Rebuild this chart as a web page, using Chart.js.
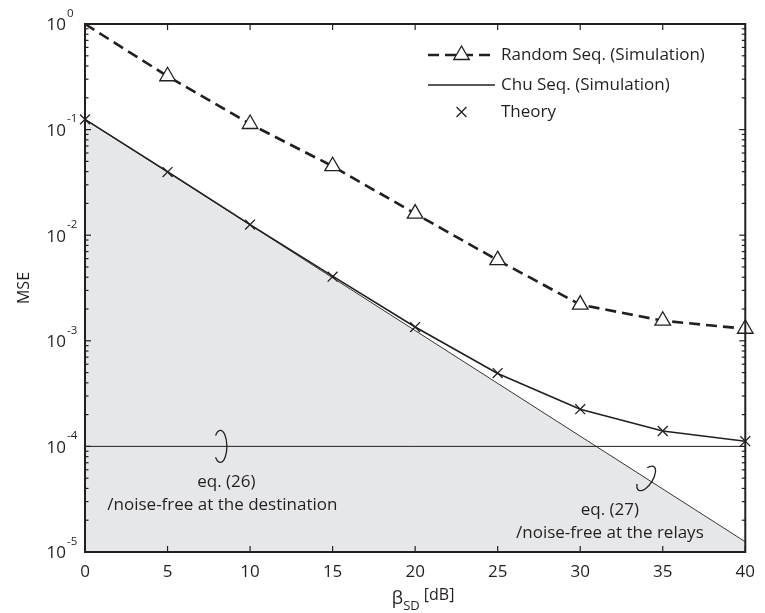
<!DOCTYPE html>
<html><head><meta charset="utf-8">
<script src="https://cdn.jsdelivr.net/npm/chart.js@4"></script>
<style>html,body{margin:0;padding:0;background:#fff}#wrap{width:765px;height:613px;position:relative}</style>
</head><body><div id="wrap"><canvas id="c" width="765" height="613"></canvas></div>
<script>
// ---- data ----
const snr = [0, 5, 10, 15, 20, 25, 30, 35, 40];
const randomSeq = [1.0, 0.32, 0.113, 0.045, 0.016, 0.0058, 0.0022, 0.00155, 0.0013];
const chuSeq = [0.125, 0.040, 0.0126, 0.0041, 0.00135, 0.00049, 0.000225, 0.00014, 0.000112];
const theory = [0.125, 0.0396, 0.0126, 0.00405, 0.00135, 0.000495, 0.000225, 0.00014, 0.000112];
const eq27X = [0, 40];
const eq27Y = [0.125, 1.25e-5];
const eq26X = [0, 40];
const eq26Y = [1e-4, 1e-4];
const xTickVals = [0, 5, 10, 15, 20, 25, 30, 35, 40];
const yTickVals = [1, 0.1, 0.01, 0.001, 0.0001, 0.00001];
const yTickExp = ['0', '-1', '-2', '-3', '-4', '-5'];
const legendLabels = ['Random Seq. (Simulation)', 'Chu Seq. (Simulation)', 'Theory'];
const noteLabels = [['eq. (26)', '/noise-free at the destination'], ['eq. (27)', '/noise-free at the relays']];
const noteAnchorX = [8.2, 34.1];

const INK = '#231f20';
const FONT = '"Open Sans", "Noto Sans", sans-serif';
const pts = (xs, ys) => xs.map((v, i) => ({x: v, y: ys[i]}));

const deco = {
  id: 'deco',
  afterDraw(chart) {
    const {ctx, chartArea: a, scales: {x, y}} = chart;
    const line = (x1, y1, x2, y2) => { ctx.beginPath(); ctx.moveTo(x1, y1); ctx.lineTo(x2, y2); ctx.stroke(); };
    ctx.save();
    ctx.strokeStyle = INK; ctx.fillStyle = INK;
    // inside ticks
    ctx.lineWidth = 1.2;
    xTickVals.forEach(v => {
      const px = x.getPixelForValue(v);
      line(px, a.bottom, px, a.bottom - 6);
      line(px, a.top, px, a.top + 6);
    });
    for (let e = -5; e < 0; e++) {
      for (let m = 1; m < 10; m++) {
        const py = y.getPixelForValue(m * Math.pow(10, e));
        const L = m === 1 ? 6 : 3.5;
        line(a.left, py, a.left + L, py);
        line(a.right, py, a.right - L, py);
      }
    }
    // box
    ctx.lineWidth = 2;
    ctx.strokeRect(a.left, a.top, a.right - a.left, a.bottom - a.top);
    // y tick labels with superscripts
    yTickVals.forEach((v, i) => {
      const py = y.getPixelForValue(v);
      ctx.font = '17px ' + FONT; ctx.textAlign = 'right'; ctx.textBaseline = 'middle';
      ctx.fillText('10', 66, py + 1.5);
      ctx.font = '11.5px ' + FONT; ctx.textAlign = 'left';
      ctx.fillText(yTickExp[i], 67, py - 10.5);
    });
    // y title
    ctx.save();
    ctx.translate(24, (a.top + a.bottom) / 2);
    ctx.rotate(-Math.PI / 2);
    ctx.font = '16px ' + FONT; ctx.textAlign = 'center'; ctx.textBaseline = 'middle';
    ctx.fillText('MSE', 0, 0);
    ctx.restore();
    // x title: beta_SD [dB]
    ctx.textAlign = 'left'; ctx.textBaseline = 'alphabetic';
    const cx = (a.left + a.right) / 2 + 8, by = 604;
    ctx.font = '18px ' + FONT; const w1 = ctx.measureText('β').width;
    ctx.font = '13px ' + FONT; const w2 = ctx.measureText('SD').width;
    ctx.font = '16px ' + FONT; const w3 = ctx.measureText(' [dB]').width;
    let sx = cx - (w1 + w2 + w3) / 2;
    ctx.font = '18px ' + FONT; ctx.fillText('β', sx, by); sx += w1;
    ctx.font = '13px ' + FONT; ctx.fillText('SD', sx, by + 6); sx += w2;
    ctx.font = '16px ' + FONT; ctx.fillText(' [dB]', sx, by - 4);

    // annotation marks
    ctx.lineWidth = 1.3;
    const p26x = x.getPixelForValue(noteAnchorX[0]), p26y = y.getPixelForValue(eq26Y[0]);
    ctx.beginPath();
    ctx.ellipse(p26x, p26y, 6.5, 16, 0, -2.4, 2.4);
    ctx.stroke();
    const t = (noteAnchorX[1] - eq27X[0]) / (eq27X[1] - eq27X[0]);
    const v27 = Math.pow(10, Math.log10(eq27Y[0]) + t * (Math.log10(eq27Y[1]) - Math.log10(eq27Y[0])));
    const p27x = x.getPixelForValue(noteAnchorX[1]), p27y = y.getPixelForValue(v27);
    const ang = Math.atan2(y.getPixelForValue(eq27Y[1]) - y.getPixelForValue(eq27Y[0]), x.getPixelForValue(40) - x.getPixelForValue(0));
    ctx.beginPath();
    ctx.ellipse(p27x - 2 * Math.cos(ang), p27y - 2 * Math.sin(ang), 6.5, 14, ang, -2.4, 2.4);
    ctx.stroke();
    // annotation text
    ctx.font = '17px ' + FONT; ctx.textAlign = 'center'; ctx.textBaseline = 'middle';
    ctx.fillText(noteLabels[0][0], p26x + 6, 482);
    ctx.fillText(noteLabels[0][1], p26x + 2, 505);
    ctx.fillText(noteLabels[1][0], p27x - 38, 510);
    ctx.fillText(noteLabels[1][1], p27x - 38, 533);

    // legend
    const ds = chart.data.datasets;
    const rows = [55, 85, 112];
    const lx1 = 428, lx2 = 495, tx = 501;
    [0, 1, 2].forEach(i => {
      const d = ds[i], ry = rows[i];
      if (d.showLine !== false) {
        ctx.save();
        ctx.lineWidth = d.borderWidth; ctx.strokeStyle = d.borderColor;
        ctx.setLineDash(d.borderDash || []);
        line(lx1, ry, lx2, ry);
        ctx.restore();
      }
      if (d.legendRadius) {
        ctx.save();
        ctx.fillStyle = d.pointBackgroundColor || '#fff';
        ctx.strokeStyle = d.pointBorderColor; ctx.lineWidth = d.pointBorderWidth;
        ctx.setLineDash([]);
        Chart.helpers.drawPoint(ctx, {pointStyle: d.pointStyle, radius: d.legendRadius, borderWidth: d.pointBorderWidth, rotation: 0},
          (lx1 + lx2) / 2, ry);
        ctx.restore();
      }
      ctx.fillStyle = INK;
      ctx.font = '17px ' + FONT; ctx.textAlign = 'left'; ctx.textBaseline = 'middle';
      ctx.fillText(legendLabels[i], tx, ry);
    });
    ctx.restore();
  }
};

const chart = new Chart(document.getElementById('c'), {
  type: 'line',
  data: {
    datasets: [
      {
        label: legendLabels[0], data: pts(snr, randomSeq), borderColor: INK, borderWidth: 2.6,
        borderDash: [11, 6], pointStyle: 'triangle', pointRadius: snr.map((v, i) => i === 0 ? 0 : 9),
        pointBackgroundColor: '#fff', pointBorderColor: INK, pointBorderWidth: 1.3, clip: false, order: 1,
        legendRadius: 9
      },
      {
        label: legendLabels[1], data: pts(snr, chuSeq), borderColor: INK, borderWidth: 1.6,
        pointRadius: 0, order: 2
      },
      {
        label: legendLabels[2], data: pts(snr, theory), showLine: false, pointStyle: 'crossRot',
        pointRadius: 7, pointBorderColor: INK, pointBorderWidth: 1.3, clip: false, order: 0,
        legendRadius: 7
      },
      {
        label: 'eq27', data: pts(eq27X, eq27Y), borderColor: INK, borderWidth: 0.9, pointRadius: 0,
        fill: 'start', backgroundColor: '#e6e7e8', order: 10
      },
      {
        label: 'eq26', data: pts(eq26X, eq26Y), borderColor: INK, borderWidth: 1, pointRadius: 0, order: 5
      }
    ]
  },
  options: {
    responsive: false, animation: false, devicePixelRatio: 1,
    layout: {padding: {top: 24, right: 11, left: 0, bottom: 0}},
    plugins: {legend: {display: false}, tooltip: {enabled: false}},
    elements: {line: {tension: 0}},
    scales: {
      x: {
        type: 'linear', min: 0, max: 40,
        afterBuildTicks: s => { s.ticks = xTickVals.map(v => ({value: v})); },
        afterFit: s => { s.height = 61; },
        grid: {display: false, drawTicks: false}, border: {display: false},
        ticks: {color: INK, font: {family: FONT, size: 17}, padding: 10, maxRotation: 0}
      },
      y: {
        type: 'logarithmic', min: 1e-5, max: 1,
        afterFit: s => { s.width = 85; },
        grid: {display: false, drawTicks: false}, border: {display: false},
        ticks: {display: false}
      }
    }
  },
  plugins: [deco]
});
</script></body></html>
